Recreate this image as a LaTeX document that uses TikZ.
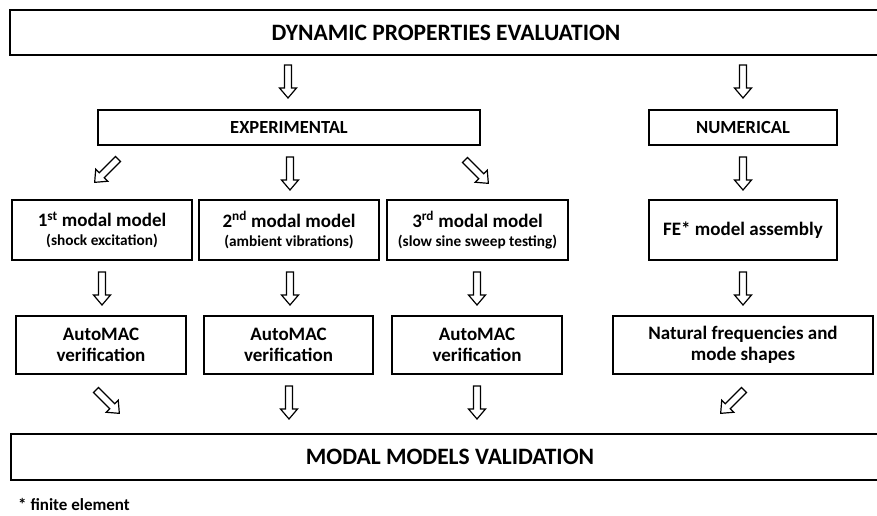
\documentclass[tikz,border=0pt]{standalone}
\usepackage{fontspec}
\setmainfont{Carlito}
\begin{document}
\begin{tikzpicture}[x=1pt,y=-1pt,
  box/.style={draw,line width=1.6pt,rectangle,inner sep=0pt,align=center,font=\bfseries},
  bigtxt/.style={font=\bfseries\fontsize{23.5}{26}\selectfont},
  midtxt/.style={font=\bfseries\fontsize{18.5}{21}\selectfont},
  boxtxt/.style={font=\bfseries\fontsize{19}{21}\selectfont},
  subtxt/.style={font=\bfseries\fontsize{19}{21}\selectfont},
  barrow/.pic={\draw[line width=1.2pt,line join=miter] (0,3.5) -- (23,3.5) -- (23,8.5) -- (33,0) -- (23,-8.5) -- (23,-3.5) -- (0,-3.5) -- cycle;}
]
\useasboundingbox (0,0) rectangle (877,516);
\clip (0,0) rectangle (877,516);
\fill[white] (0,0) rectangle (877,516);

\newcommand\subline[1]{{\fontsize{15.3}{18}\selectfont #1}}

% boxes
\node[box,bigtxt,minimum width=872pt,minimum height=45pt] (top) at (446,32.5) {DYNAMIC PROPERTIES EVALUATION};
\node[box,midtxt,minimum width=382pt,minimum height=35pt] (exp) at (289,127.5) {EXPERIMENTAL};
\node[box,midtxt,minimum width=188pt,minimum height=35pt] (num) at (743,127.5) {NUMERICAL};

\node[box,subtxt,minimum width=180pt,minimum height=60pt] (m1) at (102,230) {1\textsuperscript{st} modal model\\[-2pt]\subline{(shock excitation)}};
\node[box,subtxt,minimum width=180pt,minimum height=60pt] (m2) at (289,230) {2\textsuperscript{nd} modal model\\[-2pt]\subline{(ambient vibrations)}};
\node[box,subtxt,minimum width=181pt,minimum height=60pt] (m3) at (477.5,230) {3\textsuperscript{rd} modal model\\[-2pt]\subline{(slow sine sweep testing)}};
\node[box,boxtxt,minimum width=188pt,minimum height=60pt] (fe) at (743,230) {FE* model assembly};

\node[box,boxtxt,minimum width=170pt,minimum height=58pt] (v1) at (101,345) {AutoMAC\\verification};
\node[box,boxtxt,minimum width=169pt,minimum height=58pt] (v2) at (288.5,345) {AutoMAC\\verification};
\node[box,boxtxt,minimum width=170pt,minimum height=58pt] (v3) at (477,345) {AutoMAC\\verification};
\node[box,boxtxt,minimum width=260pt,minimum height=58pt] (nf) at (743,345) {Natural frequencies and\\mode shapes};

\node[box,bigtxt,minimum width=878pt,minimum height=46pt] (val) at (450,457) {MODAL MODELS VALIDATION};

\node[anchor=west,inner sep=0pt,font=\bfseries\fontsize{17}{20}\selectfont] (note) at (18,504) {* finite element};

% arrow tails
\coordinate (a1) at (288,65);
\coordinate (a2) at (743,65);
\coordinate (b1) at (118,159);
\coordinate (b2) at (290,157);
\coordinate (b3) at (465,160);
\coordinate (b4) at (743,157);
\coordinate (c1) at (102,272);
\coordinate (c2) at (290,272);
\coordinate (c3) at (477,272);
\coordinate (c4) at (743,272);
\coordinate (d1) at (96,390);
\coordinate (d2) at (289,386);
\coordinate (d3) at (477,386);
\coordinate (d4) at (744,390);

\pic[rotate=-90] at (a1) {barrow};
\pic[rotate=-90] at (a2) {barrow};
\pic[rotate=-135] at (b1) {barrow};
\pic[rotate=-90] at (b2) {barrow};
\pic[rotate=-45] at (b3) {barrow};
\pic[rotate=-90] at (b4) {barrow};
\pic[rotate=-90] at (c1) {barrow};
\pic[rotate=-90] at (c2) {barrow};
\pic[rotate=-90] at (c3) {barrow};
\pic[rotate=-90] at (c4) {barrow};
\pic[rotate=-45] at (d1) {barrow};
\pic[rotate=-90] at (d2) {barrow};
\pic[rotate=-90] at (d3) {barrow};
\pic[rotate=-135] at (d4) {barrow};
\end{tikzpicture}
\end{document}
